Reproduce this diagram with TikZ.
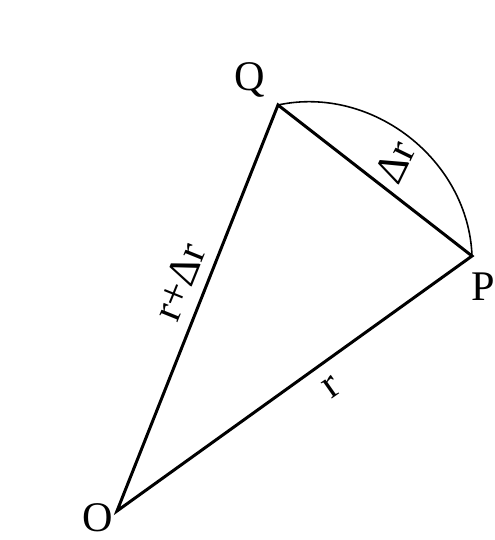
\documentclass[tikz,border=0pt]{standalone}
\usepackage{fontspec}
\setmainfont{Liberation Serif}
\usetikzlibrary{calc}

\begin{document}
\begin{tikzpicture}[x=0.01cm,y=0.01cm,
    side/.style={line width=0.85pt,line join=miter},
    arcline/.style={line width=0.45pt},
    lbl/.style={font=\fontsize{12}{14}\selectfont,inner sep=1pt}]
  \useasboundingbox (0,0) rectangle (494,540);
  % triangle corners
  \coordinate (O) at (117,29);
  \coordinate (Q) at (278,435);
  \coordinate (P) at (472,284);
  \draw[side] (O) -- (Q) -- (P) -- cycle;
  \draw[arcline] (Q) to[bend left=50] (P);
  % corner names
  \node[lbl] (nameQ) at (250,460) {Q};
  \node[lbl] (nameP) at (483,253) {P};
  \node[lbl] (nameO) at (98,22) {O};
  % side labels
  \node[lbl,rotate=68] (lenOQ) at (179,258) {r+Δr};
  \node[lbl,rotate=64] (lenQP) at (395,378) {Δr};
  \node[lbl,rotate=35] (lenOP) at (332,153) {r};
\end{tikzpicture}
\end{document}
